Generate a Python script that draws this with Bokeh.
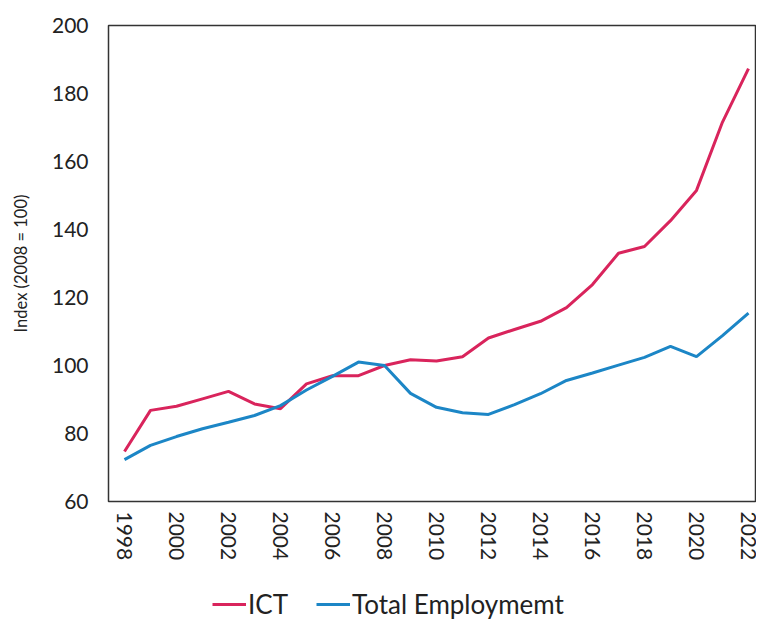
import math
from bokeh.plotting import figure
from bokeh.layouts import column
from bokeh.models import Legend, LegendItem, FixedTicker, Range1d
from bokeh.embed import file_html
from bokeh.resources import INLINE

years = list(range(1998, 2023))
ict = [74.7, 86.8, 88.0, 90.2, 92.4, 88.7, 87.3, 94.6, 97.0, 97.0, 100.0, 101.7,
       101.3, 102.6, 108.1, 110.6, 113.0, 117.0, 123.8, 133.0, 135.0, 142.6,
       151.5, 171.6, 187.3]
total = [72.3, 76.5, 79.1, 81.4, 83.3, 85.3, 88.2, 92.8, 96.8, 101.0, 100.0, 91.8,
         87.7, 86.1, 85.6, 88.5, 91.7, 95.6, 97.8, 100.1, 102.4, 105.6,
         102.6, 108.8, 115.4]
x_ticks = list(range(1998, 2023, 2))
y_ticks = list(range(60, 201, 20))
series_names = ["ICT", "Total Employmemt"]
series_colors = ["#D9245C", "#1C86C6"]

FONT = "Lato"
TXT = "#222222"

p = figure(width=756, height=578, output_backend="svg", toolbar_location=None,
           x_range=Range1d(1997.385, 2022.308), y_range=Range1d(60, 200),
           min_border_left=108, min_border_top=25, min_border_right=0,
           min_border_bottom=77)

p.line(years, ict, line_color=series_colors[0], line_width=3)
p.line(years, total, line_color=series_colors[1], line_width=3)

p.grid.visible = False
p.outline_line_color = "#333333"
p.outline_line_width = 1.5
p.background_fill_color = "white"
p.border_fill_color = "white"

p.xaxis.ticker = FixedTicker(ticks=x_ticks)
p.yaxis.ticker = FixedTicker(ticks=y_ticks)
for ax in (p.xaxis, p.yaxis):
    ax.axis_line_color = None
    ax.major_tick_line_color = None
    ax.minor_tick_line_color = None
    ax.major_tick_out = 0
    ax.major_tick_in = 0
    ax.minor_tick_out = 0
    ax.major_label_text_font = FONT
    ax.major_label_text_font_size = "21px"
    ax.major_label_text_color = TXT

p.xaxis.major_label_orientation = -math.pi / 2
p.xaxis.major_label_standoff = 10
p.yaxis.major_label_standoff = 20
p.yaxis.axis_label = "Index (2008 = 100)"
p.yaxis.axis_label_text_font = FONT
p.yaxis.axis_label_text_font_size = "16.5px"
p.yaxis.axis_label_text_font_style = "normal"
p.yaxis.axis_label_text_color = TXT
p.yaxis.axis_label_standoff = 18

# legend strip below the chart (series drawn outside its visible range,
# only their legend glyphs show)
p2 = figure(width=756, height=43, output_backend="svg", toolbar_location=None,
            x_axis_type=None, y_axis_type=None, min_border=0,
            x_range=Range1d(0, 1), y_range=Range1d(0, 1))
p2.grid.visible = False
p2.outline_line_color = None
p2.background_fill_color = "white"
p2.border_fill_color = "white"
lr1 = p2.line(years, ict, line_color=series_colors[0], line_width=3)
lr2 = p2.line(years, total, line_color=series_colors[1], line_width=3)

legend = Legend(items=[LegendItem(label=series_names[0], renderers=[lr1]),
                       LegendItem(label=series_names[1], renderers=[lr2])],
                orientation="horizontal", location=(104, 1),
                label_text_font=FONT, label_text_font_size="26px",
                label_text_color=TXT, glyph_width=34, glyph_height=24,
                label_standoff=2, spacing=28, border_line_color=None,
                background_fill_alpha=0, margin=0, padding=0)
p2.add_layout(legend, "center")

open("out.html", "w").write(file_html(column(p, p2, spacing=0), INLINE))
